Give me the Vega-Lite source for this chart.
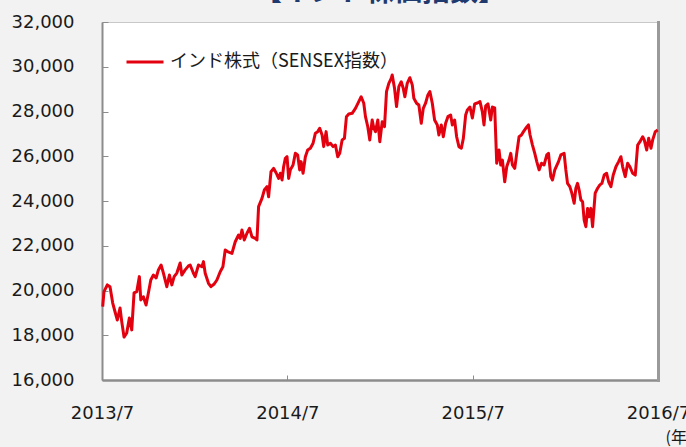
{
  "$schema": "https://vega.github.io/schema/vega-lite/v6.json",
  "width": 556,
  "height": 358,
  "autosize": {"type": "none"},
  "padding": {"left": 102, "top": 22, "right": 28, "bottom": 67},
  "background": "#f2f2f2",
  "config": {
    "view": {"fill": "white", "stroke": "#c8c8c8", "strokeWidth": 1},
    "font": "DejaVu Sans"
  },
  "title": {
    "text": "【インド株価指数】",
    "font": "Noto Sans CJK JP",
    "fontSize": 28,
    "fontWeight": "bold",
    "color": "#1f3a6e",
    "anchor": "middle",
    "frame": "group",
    "baseline": "top",
    "offset": 0,
    "dy": -6
  },
  "data": {
    "values": [
      {"t": 2013.5038, "v": 19280}, {"t": 2013.5108, "v": 19950}, {"t": 2013.5286, "v": 20250}, {"t": 2013.5432, "v": 20170},
      {"t": 2013.5578, "v": 19440}, {"t": 2013.5703, "v": 19050}, {"t": 2013.5827, "v": 18680}, {"t": 2013.5973, "v": 19220},
      {"t": 2013.6065, "v": 18610}, {"t": 2013.6189, "v": 17920}, {"t": 2013.6335, "v": 18100}, {"t": 2013.6476, "v": 18770},
      {"t": 2013.6605, "v": 18240}, {"t": 2013.673, "v": 19890}, {"t": 2013.6876, "v": 19950}, {"t": 2013.7016, "v": 20620},
      {"t": 2013.7092, "v": 19580}, {"t": 2013.7232, "v": 19720}, {"t": 2013.7378, "v": 19350}, {"t": 2013.7503, "v": 19890},
      {"t": 2013.7632, "v": 20470}, {"t": 2013.7773, "v": 20690}, {"t": 2013.7919, "v": 20560}, {"t": 2013.8043, "v": 20920},
      {"t": 2013.8189, "v": 21140}, {"t": 2013.8314, "v": 20780}, {"t": 2013.8497, "v": 20170}, {"t": 2013.8638, "v": 20690},
      {"t": 2013.8768, "v": 20250}, {"t": 2013.8892, "v": 20620}, {"t": 2013.9038, "v": 20780}, {"t": 2013.9216, "v": 21230},
      {"t": 2013.9308, "v": 20690}, {"t": 2013.9486, "v": 20920}, {"t": 2013.9665, "v": 21100}, {"t": 2013.9757, "v": 21140},
      {"t": 2013.9935, "v": 20770}, {"t": 2014.0027, "v": 20620}, {"t": 2014.0205, "v": 21140}, {"t": 2014.0389, "v": 21060},
      {"t": 2014.0476, "v": 21290}, {"t": 2014.0568, "v": 20770}, {"t": 2014.0746, "v": 20320}, {"t": 2014.0876, "v": 20170},
      {"t": 2014.1054, "v": 20290}, {"t": 2014.12, "v": 20470}, {"t": 2014.1378, "v": 20840}, {"t": 2014.1524, "v": 21060},
      {"t": 2014.1649, "v": 21810}, {"t": 2014.1773, "v": 21740}, {"t": 2014.2011, "v": 21660}, {"t": 2014.2189, "v": 22180},
      {"t": 2014.2368, "v": 22480}, {"t": 2014.2459, "v": 22330}, {"t": 2014.2551, "v": 22700}, {"t": 2014.2676, "v": 22260},
      {"t": 2014.2822, "v": 22560}, {"t": 2014.2962, "v": 22780}, {"t": 2014.3092, "v": 22400}, {"t": 2014.327, "v": 22330},
      {"t": 2014.3362, "v": 22260}, {"t": 2014.3449, "v": 23750}, {"t": 2014.3632, "v": 24120}, {"t": 2014.3757, "v": 24490},
      {"t": 2014.3903, "v": 24640}, {"t": 2014.3989, "v": 24190}, {"t": 2014.4119, "v": 25310}, {"t": 2014.4259, "v": 25460},
      {"t": 2014.4405, "v": 25240}, {"t": 2014.453, "v": 25010}, {"t": 2014.4622, "v": 25240}, {"t": 2014.4714, "v": 24940},
      {"t": 2014.48, "v": 25530}, {"t": 2014.4892, "v": 25910}, {"t": 2014.4984, "v": 25980}, {"t": 2014.507, "v": 25010},
      {"t": 2014.5162, "v": 25390}, {"t": 2014.5308, "v": 25610}, {"t": 2014.5432, "v": 26130}, {"t": 2014.5557, "v": 26060},
      {"t": 2014.5665, "v": 25390}, {"t": 2014.5741, "v": 25760}, {"t": 2014.5849, "v": 25240}, {"t": 2014.5973, "v": 25980},
      {"t": 2014.6097, "v": 26280}, {"t": 2014.6243, "v": 26360}, {"t": 2014.6389, "v": 26580}, {"t": 2014.6514, "v": 27030},
      {"t": 2014.6638, "v": 27100}, {"t": 2014.6746, "v": 27250}, {"t": 2014.6876, "v": 26950}, {"t": 2014.6962, "v": 26430},
      {"t": 2014.7092, "v": 27100}, {"t": 2014.7178, "v": 26500}, {"t": 2014.7324, "v": 26580}, {"t": 2014.747, "v": 26430},
      {"t": 2014.7595, "v": 26500}, {"t": 2014.7719, "v": 25980}, {"t": 2014.7827, "v": 26130}, {"t": 2014.7957, "v": 26730},
      {"t": 2014.8081, "v": 26800}, {"t": 2014.8189, "v": 27770}, {"t": 2014.8314, "v": 27890}, {"t": 2014.8497, "v": 27920},
      {"t": 2014.8676, "v": 28140}, {"t": 2014.8854, "v": 28440}, {"t": 2014.8984, "v": 28660}, {"t": 2014.9124, "v": 28370},
      {"t": 2014.9216, "v": 27770}, {"t": 2014.9341, "v": 27320}, {"t": 2014.9449, "v": 26730}, {"t": 2014.9578, "v": 27620},
      {"t": 2014.9665, "v": 27260}, {"t": 2014.9757, "v": 27100}, {"t": 2014.9881, "v": 27620}, {"t": 2014.9989, "v": 26650},
      {"t": 2015.0119, "v": 27540}, {"t": 2015.0243, "v": 27320}, {"t": 2015.0351, "v": 28890}, {"t": 2015.0476, "v": 29260},
      {"t": 2015.0605, "v": 29480}, {"t": 2015.0659, "v": 29630}, {"t": 2015.0784, "v": 29040}, {"t": 2015.0892, "v": 28220},
      {"t": 2015.1016, "v": 29110}, {"t": 2015.1146, "v": 29330}, {"t": 2015.1254, "v": 29040}, {"t": 2015.1341, "v": 28660},
      {"t": 2015.147, "v": 29260}, {"t": 2015.1611, "v": 29510}, {"t": 2015.1741, "v": 29190}, {"t": 2015.1827, "v": 28590},
      {"t": 2015.1973, "v": 28370}, {"t": 2015.2097, "v": 28290}, {"t": 2015.2227, "v": 27470}, {"t": 2015.2335, "v": 28140},
      {"t": 2015.2459, "v": 28370}, {"t": 2015.2584, "v": 28740}, {"t": 2015.2692, "v": 28890}, {"t": 2015.2822, "v": 28370},
      {"t": 2015.2946, "v": 27620}, {"t": 2015.3092, "v": 27400}, {"t": 2015.3178, "v": 26950}, {"t": 2015.3308, "v": 27400},
      {"t": 2015.3416, "v": 26870}, {"t": 2015.3541, "v": 27470}, {"t": 2015.3665, "v": 27770}, {"t": 2015.3811, "v": 27840},
      {"t": 2015.3903, "v": 27400}, {"t": 2015.4027, "v": 27620}, {"t": 2015.4135, "v": 26870}, {"t": 2015.4259, "v": 26430},
      {"t": 2015.4389, "v": 26360}, {"t": 2015.4497, "v": 26800}, {"t": 2015.4622, "v": 27840}, {"t": 2015.4714, "v": 28070},
      {"t": 2015.4854, "v": 28200}, {"t": 2015.4984, "v": 27710}, {"t": 2015.5108, "v": 28340}, {"t": 2015.5254, "v": 28380},
      {"t": 2015.5395, "v": 28440}, {"t": 2015.5524, "v": 27980}, {"t": 2015.5611, "v": 27400}, {"t": 2015.5703, "v": 28250},
      {"t": 2015.5827, "v": 28340}, {"t": 2015.5973, "v": 27620}, {"t": 2015.6065, "v": 28200}, {"t": 2015.6189, "v": 28160},
      {"t": 2015.6297, "v": 25690}, {"t": 2015.6422, "v": 26280}, {"t": 2015.6514, "v": 25610}, {"t": 2015.6605, "v": 25830},
      {"t": 2015.673, "v": 24860}, {"t": 2015.6838, "v": 25530}, {"t": 2015.6962, "v": 25830}, {"t": 2015.7054, "v": 26130},
      {"t": 2015.7146, "v": 25610}, {"t": 2015.727, "v": 25460}, {"t": 2015.7378, "v": 26130}, {"t": 2015.7503, "v": 26870},
      {"t": 2015.7632, "v": 26950}, {"t": 2015.7741, "v": 27100}, {"t": 2015.7865, "v": 27250}, {"t": 2015.8011, "v": 27400},
      {"t": 2015.8097, "v": 26950}, {"t": 2015.8227, "v": 26500}, {"t": 2015.8351, "v": 26130}, {"t": 2015.8459, "v": 25760},
      {"t": 2015.8584, "v": 25390}, {"t": 2015.8714, "v": 25690}, {"t": 2015.8854, "v": 25610}, {"t": 2015.9, "v": 26060},
      {"t": 2015.9092, "v": 26130}, {"t": 2015.9216, "v": 25090}, {"t": 2015.9308, "v": 24940}, {"t": 2015.9432, "v": 25390},
      {"t": 2015.9632, "v": 25760}, {"t": 2015.9757, "v": 26060}, {"t": 2015.9935, "v": 26130}, {"t": 2016.0027, "v": 25390},
      {"t": 2016.0119, "v": 24790}, {"t": 2016.0243, "v": 24640}, {"t": 2016.0351, "v": 24350}, {"t": 2016.0476, "v": 23900},
      {"t": 2016.0568, "v": 24570}, {"t": 2016.0659, "v": 24790}, {"t": 2016.0746, "v": 24490}, {"t": 2016.0838, "v": 24050},
      {"t": 2016.093, "v": 23970}, {"t": 2016.1016, "v": 23150}, {"t": 2016.1108, "v": 22850}, {"t": 2016.12, "v": 23670},
      {"t": 2016.1286, "v": 23300}, {"t": 2016.1378, "v": 23670}, {"t": 2016.147, "v": 22850}, {"t": 2016.1611, "v": 24350},
      {"t": 2016.1741, "v": 24570}, {"t": 2016.1865, "v": 24720}, {"t": 2016.1973, "v": 24790}, {"t": 2016.2097, "v": 25160},
      {"t": 2016.2227, "v": 25240}, {"t": 2016.2335, "v": 24860}, {"t": 2016.2459, "v": 24640}, {"t": 2016.2584, "v": 25160},
      {"t": 2016.273, "v": 25530}, {"t": 2016.2876, "v": 25760}, {"t": 2016.3, "v": 25980}, {"t": 2016.3092, "v": 25530},
      {"t": 2016.3232, "v": 25090}, {"t": 2016.3362, "v": 25690}, {"t": 2016.3486, "v": 25530}, {"t": 2016.3632, "v": 25240},
      {"t": 2016.3773, "v": 25160}, {"t": 2016.3903, "v": 26500}, {"t": 2016.4027, "v": 26650}, {"t": 2016.4173, "v": 26870},
      {"t": 2016.4259, "v": 26730}, {"t": 2016.4389, "v": 26280}, {"t": 2016.4497, "v": 26800}, {"t": 2016.4622, "v": 26360},
      {"t": 2016.4714, "v": 26730}, {"t": 2016.4854, "v": 27100}, {"t": 2016.4984, "v": 27170}
    ]
  },
  "layer": [
    {
      "mark": {"type": "line", "strokeWidth": 3, "strokeJoin": "round"},
      "encoding": {
        "x": {
          "field": "t",
          "type": "quantitative",
          "scale": {"domain": [2013.5, 2016.5], "nice": false, "zero": false},
          "axis": {
            "values": [2013.5, 2014.5, 2015.5, 2016.5],
            "labelExpr": "floor(datum.value) + '/7'",
            "labelFont": "DejaVu Sans",
            "labelFontSize": 18,
            "labelColor": "#1a1a1a",
            "labelFlush": false,
            "labelOverlap": false,
            "tickSize": -5,
            "tickColor": "#8c8c8c",
            "tickWidth": 1,
            "domainColor": "#8c8c8c",
            "domainWidth": 2.5,
            "labelPadding": 29,
            "grid": false,
            "title": "(年)",
            "titleFont": "Noto Sans CJK JP",
            "titleFontSize": 16,
            "titleFontWeight": "normal",
            "titleColor": "#1a1a1a",
            "titleAlign": "left",
            "titleBaseline": "middle",
            "titleAnchor": "start",
            "titleX": 563,
            "titleY": 57
          }
        },
        "y": {
          "field": "v",
          "type": "quantitative",
          "scale": {"domain": [16000, 32000], "nice": false, "zero": false},
          "axis": {
            "values": [16000, 18000, 20000, 22000, 24000, 26000, 28000, 30000, 32000],
            "format": ",d",
            "labelFont": "DejaVu Sans",
            "labelFontSize": 18,
            "labelColor": "#1a1a1a",
            "tickSize": -6,
            "tickColor": "#8c8c8c",
            "tickWidth": 1,
            "domainColor": "#8c8c8c",
            "domainWidth": 2,
            "labelPadding": 34,
            "grid": false,
            "title": null
          }
        },
        "color": {
          "datum": "インド株式（SENSEX指数）",
          "scale": {"range": ["#e3000f"]},
          "legend": {
            "title": null,
            "orient": "none",
            "legendX": 23,
            "legendY": 20,
            "padding": 0,
            "symbolType": "stroke",
            "symbolSize": 1369,
            "symbolStrokeWidth": 3,
            "labelFont": "Noto Sans CJK JP",
            "labelFontSize": 18,
            "labelColor": "#1a1a1a",
            "labelOffset": 5,
            "labelLimit": 400
          }
        }
      }
    },
    {
      "mark": {"type": "line", "opacity": 0},
      "encoding": {
        "x": {"field": "t", "type": "quantitative"},
        "y": {
          "field": "v",
          "type": "quantitative",
          "axis": {"orient": "right", "labels": false, "ticks": false, "grid": false, "title": null, "domainColor": "#9a9a9a", "domainWidth": 3, "domainCap": "square"}
        }
      }
    }
  ],
  "resolve": {"axis": {"y": "independent"}}
}
